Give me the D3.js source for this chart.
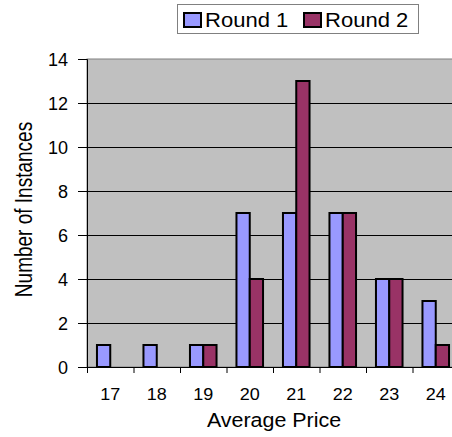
<!DOCTYPE html>
<html>
<head>
<meta charset="utf-8">
<script src="https://cdn.jsdelivr.net/npm/d3@7"></script>
<style>
  html, body { margin: 0; padding: 0; background: #fff; }
  svg { display: block; font-family: "Liberation Sans", Arial, sans-serif; }
</style>
</head>
<body>
<svg id="chart" width="452" height="437"></svg>
<script>
// Average price histogram, two rounds
const categories = ["17", "18", "19", "20", "21", "22", "23", "24"];
const seriesNames = ["Round 1", "Round 2"];
const round1 = [1, 1, 1, 7, 7, 7, 4, 3];
const round2 = [0, 0, 1, 4, 13, 7, 4, 1];
const yTicks = [0, 2, 4, 6, 8, 10, 12, 14];
const colors = ["#9999FF", "#993366"];

const svg = d3.select("#chart");
const plot = { left: 87, top: 59, right: 459, bottom: 367 };
const font = "Liberation Sans, Arial, sans-serif";

const x = d3.scaleBand().domain(categories).range([plot.left, plot.right]).paddingInner(0).paddingOuter(0);
const xs = d3.scaleBand().domain(seriesNames).range([0, x.bandwidth()]).paddingInner(0).paddingOuter(0.75);
const y = d3.scaleLinear().domain([0, 14]).range([plot.bottom, plot.top]);

// Plot area
svg.append("rect")
  .attr("x", plot.left).attr("y", plot.top)
  .attr("width", plot.right - plot.left).attr("height", plot.bottom - plot.top)
  .attr("fill", "#C0C0C0").attr("stroke", "#808080").attr("stroke-width", 1);

// Horizontal gridlines
svg.append("g").selectAll("line")
  .data(yTicks.filter(d => d > 0 && d < 14))
  .join("line")
  .attr("x1", plot.left).attr("x2", plot.right)
  .attr("y1", d => Math.round(y(d)) + 0.5).attr("y2", d => Math.round(y(d)) + 0.5)
  .attr("stroke", "#000").attr("stroke-width", 1);

// Bars
const rows = categories.map((c, i) => ({ cat: c, values: [round1[i], round2[i]] }));
svg.append("g").selectAll("g")
  .data(rows)
  .join("g")
  .attr("transform", d => `translate(${x(d.cat)},0)`)
  .selectAll("rect")
  .data(d => d.values.map((v, k) => ({ series: seriesNames[k], value: v, k })).filter(e => e.value > 0))
  .join("rect")
  .attr("x", d => xs(d.series))
  .attr("y", d => y(d.value))
  .attr("width", xs.bandwidth())
  .attr("height", d => y(0) - y(d.value))
  .attr("fill", d => colors[d.k])
  .attr("stroke", "#000")
  .attr("stroke-width", 2);

// Y axis
const yAxis = svg.append("g")
  .attr("transform", `translate(${plot.left},0)`)
  .call(d3.axisLeft(y).tickValues(yTicks).tickSize(9).tickFormat(d3.format("d")));
yAxis.select(".domain").attr("stroke", "#000");
yAxis.selectAll(".tick line").attr("stroke", "#000");
yAxis.selectAll(".tick text")
  .attr("x", -19).attr("dy", null)
  .attr("y", 6.5)
  .attr("font-size", 18).attr("fill", "#000")
  .attr("font-family", font);

// X axis: labels at category centres, tick marks at category boundaries
const xAxis = svg.append("g")
  .attr("transform", `translate(0,${plot.bottom})`)
  .call(d3.axisBottom(x).tickSize(0).tickSizeOuter(0));
xAxis.select(".domain").attr("stroke", "#000");
xAxis.selectAll(".tick text")
  .attr("y", null).attr("dy", null)
  .attr("transform", "translate(0,33) scale(1.06,1)")
  .attr("font-size", 17).attr("fill", "#000")
  .attr("font-family", font);
const bounds = categories.map(c => x(c)).concat([x(categories[categories.length - 1]) + x.bandwidth()]);
xAxis.selectAll("line.bound")
  .data(bounds)
  .join("line")
  .attr("class", "bound")
  .attr("x1", d => d + 0.5).attr("x2", d => d + 0.5)
  .attr("y1", 0).attr("y2", 6)
  .attr("stroke", "#000");

// Axis titles
svg.append("text")
  .attr("transform", "translate(274,427) scale(1.1,1)")
  .attr("text-anchor", "middle")
  .attr("font-size", 19.5)
  .text("Average Price");

svg.append("text")
  .attr("transform", "translate(32,209.5) rotate(-90) scale(1,1.25)")
  .attr("text-anchor", "middle")
  .attr("font-size", 19)
  .text("Number of Instances");

// Legend
const legend = svg.append("g");
legend.append("rect")
  .attr("x", 177.5).attr("y", 4.5).attr("width", 241).attr("height", 29)
  .attr("fill", "#fff").attr("stroke", "#808080").attr("stroke-width", 1);
const legendX = [183, 303];
seriesNames.forEach((name, k) => {
  legend.append("rect")
    .attr("x", legendX[k] + 1).attr("y", 13).attr("width", 17).attr("height", 14)
    .attr("fill", colors[k]).attr("stroke", "#000").attr("stroke-width", 2);
  legend.append("text")
    .attr("transform", `translate(${legendX[k] + 22},27) scale(1.13,1)`)
    .attr("font-size", 19.5)
    .text(name);
});
</script>
</body>
</html>
